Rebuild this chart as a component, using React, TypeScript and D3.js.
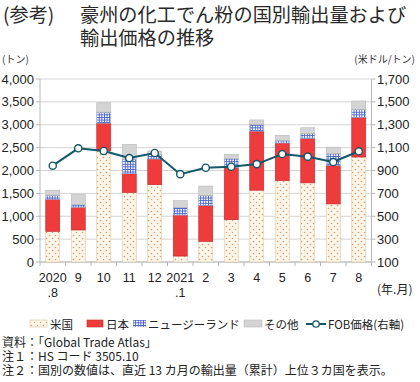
import React from "react";
import * as d3 from "d3";

const months = ["2020\n.8", "9", "10", "11", "12", "2021\n.1", "2", "3", "4", "5", "6", "7", "8"];
const usVals = [670, 700, 2430, 1520, 1690, 130, 450, 925, 1570, 1780, 1730, 1270, 2295];
const jpVals = [700, 495, 605, 410, 560, 895, 785, 1135, 1290, 820, 970, 845, 865];
const nzVals = [90, 60, 240, 320, 95, 170, 220, 200, 150, 60, 110, 255, 175];
const otherVals = [110, 225, 205, 320, 80, 145, 205, 95, 95, 110, 125, 140, 185];
const fobVals = [942, 1094, 1071, 1009, 1053, 868, 924, 933, 956, 1044, 1021, 974, 1068];
const leftTicks = [0, 500, 1000, 1500, 2000, 2500, 3000, 3500, 4000];
const rightTicks = [100, 300, 500, 700, 900, 1100, 1300, 1500, 1700];

const FONT = "'Liberation Sans', 'Noto Sans CJK JP', sans-serif";
const JFONT = "'Noto Sans CJK JP', 'Liberation Sans', sans-serif";

export default function App() {
  const W = 420, H = 382;
  const x0 = 40, x1 = 371.5, yTop = 79, yBot = 262;
  const x = d3.scaleBand<string>().domain(months.map((_, i) => String(i))).range([x0, x1]).paddingInner(0.45).paddingOuter(0.225);
  const xb = d3.scaleBand<string>().domain(months.map((_, i) => String(i))).range([x0, x1]);
  const yL = d3.scaleLinear().domain([0, 4000]).range([yBot, yTop]);
  const yR = d3.scaleLinear().domain([100, 1700]).range([yBot, yTop]);

  const series = [
    { key: "us", vals: usVals, fill: "url(#usPat)", stroke: "#e2c9a6" },
    { key: "jp", vals: jpVals, fill: "#ee3b3b", stroke: "#c4262b" },
    { key: "nz", vals: nzVals, fill: "url(#nzPat)", stroke: "#9aa8d8" },
    { key: "ot", vals: otherVals, fill: "#d4d4d4", stroke: "#b8b8b8" },
  ];

  const line = d3.line<number>().x((_, i) => (xb(String(i)) as number) + xb.bandwidth() / 2).y((d) => yR(d));

  const bars: JSX.Element[] = [];
  months.forEach((_, i) => {
    let acc = 0;
    series.forEach((s) => {
      const v = s.vals[i];
      const yt = yL(acc + v), yb = yL(acc);
      bars.push(
        <rect key={s.key + i} x={x(String(i))} y={yt} width={x.bandwidth()} height={yb - yt} fill={s.fill} stroke={s.stroke} strokeWidth={0.6} />
      );
      acc += v;
    });
  });

  return (
    <svg width={W} height={H} style={{ position: "absolute", left: 0, top: 0, background: "#fff" }}>
      <defs>
        <pattern id="usPat" width="6" height="6" patternUnits="userSpaceOnUse">
          <rect width="6" height="6" fill="#fdf6ea" />
          <circle cx="1.5" cy="1.5" r="0.8" fill="#d99a62" />
          <circle cx="4.5" cy="4.5" r="0.8" fill="#d99a62" />
        </pattern>
        <pattern id="nzPat" width="2.6" height="2.6" patternUnits="userSpaceOnUse">
          <rect width="2.6" height="2.6" fill="#ffffff" />
          <rect width="2.6" height="0.9" fill="#4a63c8" />
          <rect width="0.9" height="2.6" fill="#4a63c8" />
        </pattern>
        <pattern id="usPatL" width="6" height="6" patternUnits="userSpaceOnUse">
          <rect width="6" height="6" fill="#fdf6ea" />
          <circle cx="1.5" cy="1.5" r="0.7" fill="#d99a62" />
          <circle cx="4.5" cy="4.5" r="0.7" fill="#d99a62" />
        </pattern>
      </defs>

      {/* Title */}
      <text x={3} y={22} fontFamily={JFONT} fontSize={19.2} fill="#2a2a2a" fontWeight={400}>(参考)</text>
      <text x={80} y={22} fontFamily={JFONT} fontSize={19.2} fill="#2a2a2a" fontWeight={400}>豪州の化工でん粉の国別輸出量および</text>
      <text x={80} y={44.5} fontFamily={JFONT} fontSize={19.2} fill="#2a2a2a" fontWeight={400}>輸出価格の推移</text>

      <text x={2} y={63} fontFamily={JFONT} fontSize={10} fill="#333">(トン)</text>
      <text x={415} y={63} textAnchor="end" fontFamily={JFONT} fontSize={10} fill="#333">(米ドル/トン)</text>

      {/* Gridlines */}
      {leftTicks.map((t) => (
        <line key={"g" + t} x1={x0} x2={x1} y1={yL(t)} y2={yL(t)} stroke="#d4d4d4" strokeWidth={1} />
      ))}
      {/* Axes */}
      <line x1={x0} x2={x0} y1={yTop} y2={yBot} stroke="#b8b8b8" />
      <line x1={x1} x2={x1} y1={yTop} y2={yBot} stroke="#b8b8b8" />
      <line x1={x0} x2={x1} y1={yBot} y2={yBot} stroke="#b8b8b8" />
      {leftTicks.map((t) => (
        <g key={"l" + t}>
          <line x1={x0 - 4} x2={x0} y1={yL(t)} y2={yL(t)} stroke="#b8b8b8" />
          <text x={34} y={yL(t) + 4.5} textAnchor="end" fontFamily={FONT} fontSize={13} fill="#222">{d3.format(",")(t)}</text>
        </g>
      ))}
      {rightTicks.map((t) => (
        <g key={"r" + t}>
          <line x1={x1} x2={x1 + 4} y1={yR(t)} y2={yR(t)} stroke="#b8b8b8" />
          <text x={377} y={yR(t) + 4.5} textAnchor="start" fontFamily={FONT} fontSize={13} fill="#222">{d3.format(",")(t)}</text>
        </g>
      ))}
      {months.map((_, i) => (
        <line key={"xt" + i} x1={xb(String(i))} x2={xb(String(i))} y1={yBot} y2={yBot + 4} stroke="#b8b8b8" />
      ))}
      <line x1={x1} x2={x1} y1={yBot} y2={yBot + 4} stroke="#b8b8b8" />

      {bars}

      <path d={line(fobVals) || ""} fill="none" stroke="#13576a" strokeWidth={2} />
      {fobVals.map((v, i) => (
        <circle key={"c" + i} cx={(xb(String(i)) as number) + xb.bandwidth() / 2} cy={yR(v)} r={3.6} fill="#fff" stroke="#13576a" strokeWidth={1.4} />
      ))}

      {/* X labels */}
      {months.map((m, i) => {
        const cx = (xb(String(i)) as number) + xb.bandwidth() / 2;
        const parts = m.split("\n");
        return (
          <g key={"xl" + i}>
            <text x={cx} y={282} textAnchor="middle" fontFamily={FONT} fontSize={12.5} fill="#222">{parts[0]}</text>
            {parts[1] && (
              <text x={cx} y={297} textAnchor="middle" fontFamily={FONT} fontSize={12.5} fill="#222">{parts[1]}</text>
            )}
          </g>
        );
      })}
      <text x={377} y={294} fontFamily={JFONT} fontSize={12} fill="#222">(年.月)</text>

      {/* Legend */}
      <g fontFamily={JFONT} fontSize={11.5} fill="#222">
        <rect x={30} y={320} width={17} height={7} fill="url(#usPatL)" stroke="#e0c4a0" strokeWidth={0.6} />
        <text x={50} y={328.5}>米国</text>
        <rect x={87} y={320} width={16} height={7} fill="#ee3b3b" stroke="#c4262b" strokeWidth={0.6} />
        <text x={106} y={328.5}>日本</text>
        <rect x={133} y={320} width={13} height={7} fill="url(#nzPat)" />
        <text x={148} y={328.5}>ニュージーランド</text>
        <rect x={244} y={320} width={18} height={7} fill="#d4d4d4" stroke="#b8b8b8" strokeWidth={0.6} />
        <text x={264} y={328.5}>その他</text>
        <line x1={306} x2={326} y1={324} y2={324} stroke="#13576a" strokeWidth={2} />
        <circle cx={316} cy={324} r={3.2} fill="#fff" stroke="#13576a" strokeWidth={1.3} />
        <text x={328} y={328.5}>FOB価格(右軸)</text>
      </g>

      {/* Notes */}
      <g fontFamily={JFONT} fontSize={12} fill="#222">
        <text x={2} y={347}>資料：「Global Trade Atlas」</text>
        <text x={2} y={361}>注１：HS コード 3505.10</text>
        <text x={2} y={375}>注２：国別の数値は、直近 13 カ月の輸出量（累計）上位３カ国を表示。</text>
      </g>
    </svg>
  );
}
